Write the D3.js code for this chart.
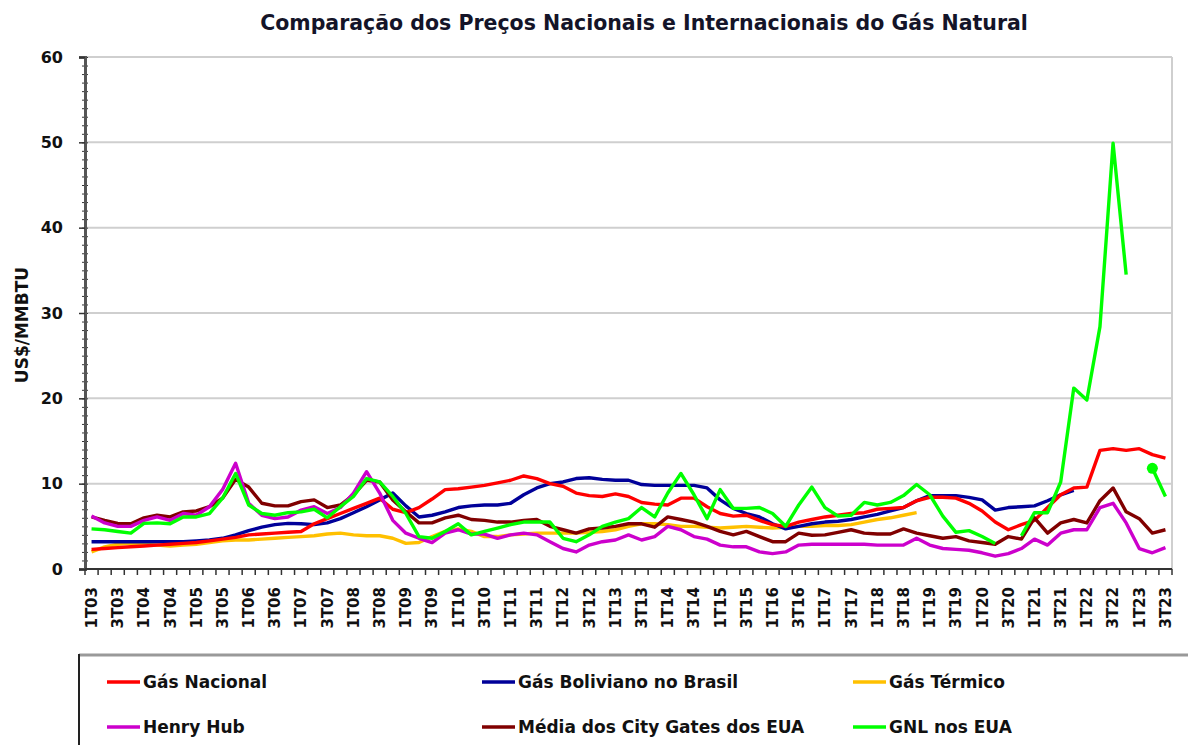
<!DOCTYPE html>
<html>
<head>
<meta charset="utf-8">
<script src="https://cdn.jsdelivr.net/npm/d3@7/dist/d3.min.js"></script>
<style>
  body { margin: 0; background: #fff; }
  text { font-family: "DejaVu Sans", Verdana, sans-serif; font-weight: bold; fill: #111; }
</style>
</head>
<body>
<svg id="chart" width="1188" height="745"></svg>
<script>
// quarters 1T03 .. 3T23
const quarters = [
  "1T03","2T03","3T03","4T03","1T04","2T04","3T04","4T04","1T05","2T05","3T05","4T05",
  "1T06","2T06","3T06","4T06","1T07","2T07","3T07","4T07","1T08","2T08","3T08","4T08",
  "1T09","2T09","3T09","4T09","1T10","2T10","3T10","4T10","1T11","2T11","3T11","4T11",
  "1T12","2T12","3T12","4T12","1T13","2T13","3T13","4T13","1T14","2T14","3T14","4T14",
  "1T15","2T15","3T15","4T15","1T16","2T16","3T16","4T16","1T17","2T17","3T17","4T17",
  "1T18","2T18","3T18","4T18","1T19","2T19","3T19","4T19","1T20","2T20","3T20","4T20",
  "1T21","2T21","3T21","4T21","1T22","2T22","3T22","4T22","1T23","2T23","3T23"
];
// every other quarter gets a label
const tickLabels = quarters.filter(q => q[0] === "1" || q[0] === "3");
const yTicks = [0, 10, 20, 30, 40, 50, 60];

// US$/MMBTU
const gasNacional = [
  2.3,2.4,2.5,2.6, 2.7,2.8,2.9,3.0, 3.1,3.3,3.5,3.7, 4.0,4.1,4.2,4.3,
  4.4,5.3,5.9,6.5, 7.1,7.7,8.3,7.0, 6.6,7.2,8.2,9.3, 9.4,9.6,9.8,10.1,
  10.4,10.9,10.6,10.0, 9.7,8.9,8.6,8.5, 8.8,8.5,7.8,7.6, 7.5,8.3,8.3,7.3,
  6.5,6.2,6.3,5.7, 5.2,5.0,5.5,5.8, 6.1,6.3,6.5,6.6, 7.0,7.1,7.2,8.0,
  8.4,8.4,8.3,7.7, 6.8,5.5,4.6,5.2, 5.7,7.2,8.7,9.5, 9.6,13.9,14.1,13.9,
  14.1,13.4,13.0
];
const gasBoliviano = [
  3.2,3.2,3.2,3.2, 3.2,3.2,3.2,3.2, 3.3,3.4,3.6,4.0, 4.5,4.9,5.2,5.35,
  5.3,5.2,5.4,5.9, 6.6,7.3,8.1,8.9, 7.4,6.1,6.3,6.7, 7.2,7.4,7.5,7.5,
  7.7,8.7,9.5,10.0, 10.2,10.6,10.7,10.5, 10.4,10.4,9.9,9.8, 9.8,9.8,9.8,9.5,
  8.1,7.1,6.5,6.1, 5.3,4.7,5.0,5.3, 5.5,5.6,5.8,6.1, 6.4,6.8,7.2,8.0,
  8.6,8.6,8.6,8.4, 8.1,6.9,7.2,7.3, 7.4,8.0,8.7,9.2, null,null,null,null,
  null,null,null
];
const gasTermico = [
  2.0,2.6,2.9,3.0, 2.9,2.8,2.7,2.8, 2.9,3.1,3.3,3.4, 3.4,3.5,3.6,3.7,
  3.8,3.9,4.1,4.2, 4.0,3.9,3.9,3.6, 3.0,3.1,3.8,4.4, 4.7,4.4,3.8,3.8,
  4.0,4.1,4.2,4.2, 4.2,4.2,4.3,4.4, 4.6,5.0,5.3,5.3, 5.2,5.0,5.0,4.9,
  4.8,4.9,5.0,4.9, 4.8,4.9,5.0,5.0, 5.1,5.1,5.2,5.5, 5.8,6.0,6.3,6.6,
  null,null,null,null, null,null,null,null, null,null,null,null, null,null,null,null,
  null,null,null
];
const henryHub = [
  6.2,5.4,5.0,5.0, 5.7,6.1,5.7,6.5, 6.3,7.3,9.3,12.4, 7.7,6.3,5.9,6.1,
  6.9,7.3,6.5,7.2, 8.9,11.4,8.9,5.7, 4.2,3.6,3.1,4.2, 4.6,4.1,4.1,3.6,
  4.0,4.2,4.0,3.2, 2.4,2.0,2.8,3.2, 3.4,4.0,3.4,3.8, 5.0,4.6,3.8,3.5,
  2.8,2.6,2.6,2.0, 1.8,2.0,2.8,2.9, 2.9,2.9,2.9,2.9, 2.8,2.8,2.8,3.6,
  2.8,2.4,2.3,2.2, 1.9,1.5,1.8,2.4, 3.5,2.8,4.2,4.6, 4.6,7.2,7.7,5.4,
  2.4,1.9,2.5
];
const cityGates = [
  6.1,5.7,5.35,5.3, 6.0,6.3,6.1,6.7, 6.8,7.3,8.3,10.5, 9.6,7.7,7.4,7.4,
  7.9,8.1,7.2,7.5, 8.7,10.4,10.2,8.1, 6.7,5.4,5.4,6.0, 6.3,5.8,5.7,5.5,
  5.5,5.7,5.8,5.0, 4.6,4.2,4.7,4.8, 5.0,5.3,5.3,4.9, 6.1,5.8,5.5,5.0,
  4.4,4.0,4.4,3.8, 3.2,3.2,4.2,3.95, 4.0,4.3,4.6,4.2, 4.1,4.1,4.7,4.2,
  3.9,3.6,3.8,3.3, 3.1,2.9,3.8,3.5, 6.0,4.2,5.4,5.8, 5.4,8.0,9.5,6.7,
  5.9,4.2,4.6
];
const gnlEua = [
  4.7,4.6,4.4,4.2, 5.35,5.4,5.3,6.1, 6.1,6.5,8.3,11.2, 7.5,6.5,6.3,6.6,
  6.7,7.0,6.0,7.3, 8.5,10.6,10.2,8.5, 6.5,3.8,3.6,4.4, 5.3,4.0,4.4,4.8,
  5.2,5.5,5.5,5.5, 3.6,3.2,4.0,5.0, 5.5,5.9,7.2,6.1, 8.9,11.2,8.7,5.9,
  9.3,7.1,7.1,7.2, 6.5,5.0,7.5,9.6, 7.2,6.2,6.3,7.8, 7.5,7.8,8.6,9.9,
  8.7,6.2,4.3,4.5, 3.8,3.0,null,3.9, 6.6,6.6,10.2,21.2, 19.8,28.4,49.9,34.5,
  null,11.8,8.5
];

const series = [
  {name: "Gás Nacional", values: gasNacional, color: "#ff0000"},
  {name: "Gás Boliviano no Brasil", values: gasBoliviano, color: "#000099"},
  {name: "Gás Térmico", values: gasTermico, color: "#ffc000"},
  {name: "Henry Hub", values: henryHub, color: "#cc00cc"},
  {name: "Média dos City Gates dos EUA", values: cityGates, color: "#800000"},
  {name: "GNL nos EUA", values: gnlEua, color: "#00ff00"}
];
// draw order (last on top)
const drawOrder = [2, 1, 0, 4, 3, 5];

const svg = d3.select("#chart");
const plot = {left: 85, right: 1172, top: 57, bottom: 569};

const xBand = d3.scaleBand().domain(quarters).range([plot.left, plot.right]).padding(0);
const xc = q => xBand(q) + xBand.bandwidth() / 2;
const y = d3.scaleLinear().domain([0, 60]).range([plot.bottom, plot.top]);

// title
svg.append("text")
  .attr("x", 644).attr("y", 30)
  .attr("text-anchor", "middle")
  .style("font-size", "20.5px")
  .style("fill", "#141428")
  .text("Comparação dos Preços Nacionais e Internacionais do Gás Natural");

// gridlines
svg.append("g").selectAll("line")
  .data(yTicks.filter(d => d > 0))
  .join("line")
    .attr("x1", plot.left).attr("x2", plot.right)
    .attr("y1", d => y(d)).attr("y2", d => y(d))
    .style("stroke", "#cfcfcf").style("stroke-width", 2);

// right border
svg.append("line")
  .attr("x1", plot.right).attr("x2", plot.right)
  .attr("y1", plot.top).attr("y2", plot.bottom)
  .style("stroke", "#cfcfcf").style("stroke-width", 2);

// y axis: minor ticks, then major ticks with labels
svg.append("g")
  .attr("transform", `translate(${plot.left},0)`)
  .call(d3.axisLeft(y).tickValues(d3.range(0, 61, 1)).tickSize(3).tickFormat(""))
  .call(g => g.select(".domain").remove())
  .call(g => g.selectAll(".tick line").attr("x2", 3).attr("x1", -3).style("stroke", "#333"));

svg.append("g")
  .attr("transform", `translate(${plot.left},0)`)
  .call(d3.axisLeft(y).tickValues(yTicks).tickSize(6).tickPadding(16))
  .call(g => g.select(".domain").style("stroke", "#555").style("stroke-width", 3))
  .call(g => g.selectAll(".tick line").style("stroke", "#333").style("stroke-width", 1.5))
  .call(g => g.selectAll(".tick text")
    .style("font-size", "16px").style("font-family", "DejaVu Sans, sans-serif")
    .style("font-weight", "bold").style("fill", "#111"));

svg.append("text")
  .attr("transform", `translate(28,325) rotate(-90)`)
  .attr("text-anchor", "middle")
  .style("font-size", "17px")
  .text("US$/MMBTU");

// x axis line and category boundary ticks
const xAxis = svg.append("g");
xAxis.append("line")
  .attr("x1", plot.left).attr("x2", plot.right)
  .attr("y1", plot.bottom).attr("y2", plot.bottom)
  .style("stroke", "#333").style("stroke-width", 2);
xAxis.selectAll("line.tick")
  .data(quarters.concat([null]))
  .join("line").attr("class", "tick")
    .attr("x1", (d, i) => plot.left + i * xBand.bandwidth())
    .attr("x2", (d, i) => plot.left + i * xBand.bandwidth())
    .attr("y1", plot.bottom).attr("y2", plot.bottom + 6)
    .style("stroke", "#333").style("stroke-width", 1.5);
xAxis.selectAll("text")
  .data(tickLabels)
  .join("text")
    .attr("transform", d => `translate(${xc(d)},${plot.bottom + 18}) rotate(-90)`)
    .attr("text-anchor", "end")
    .attr("dy", "0.36em")
    .style("font-size", "15px")
    .text(d => d);

// series lines
const line = d3.line()
  .defined(d => d.v != null)
  .x(d => xc(d.q))
  .y(d => y(d.v));

svg.append("g").selectAll("path")
  .data(drawOrder.map(k => series[k]))
  .join("path")
    .attr("d", s => line(s.values.map((v, i) => ({q: quarters[i], v}))))
    .style("fill", "none")
    .style("stroke", s => s.color)
    .style("stroke-width", 3.4)
    .style("stroke-linejoin", "round");

// isolated GNL point after the gap gets a marker
svg.append("circle")
  .attr("cx", xc("2T23")).attr("cy", y(gnlEua[81]))
  .attr("r", 5.5)
  .style("fill", "#00ff00");

// legend
const legend = svg.append("g");
legend.append("line")
  .attr("x1", 79).attr("x2", 1188).attr("y1", 655).attr("y2", 655)
  .style("stroke", "#999").style("stroke-width", 3);
legend.append("line")
  .attr("x1", 79).attr("x2", 79).attr("y1", 654).attr("y2", 745)
  .style("stroke", "#222").style("stroke-width", 2);

const legCols = [107, 482, 853];
const legRows = [682, 727];
const legItems = legend.selectAll("g.item")
  .data(series)
  .join("g").attr("class", "item")
    .attr("transform", (d, i) => `translate(${legCols[i % 3]},${legRows[Math.floor(i / 3)]})`);
legItems.append("line")
  .attr("x1", 0).attr("x2", 33)
  .style("stroke", d => d.color).style("stroke-width", 3.5);
legItems.append("text")
  .attr("x", 36).attr("dy", "0.36em")
  .style("font-size", "17px")
  .text(d => d.name);
</script>
</body>
</html>
